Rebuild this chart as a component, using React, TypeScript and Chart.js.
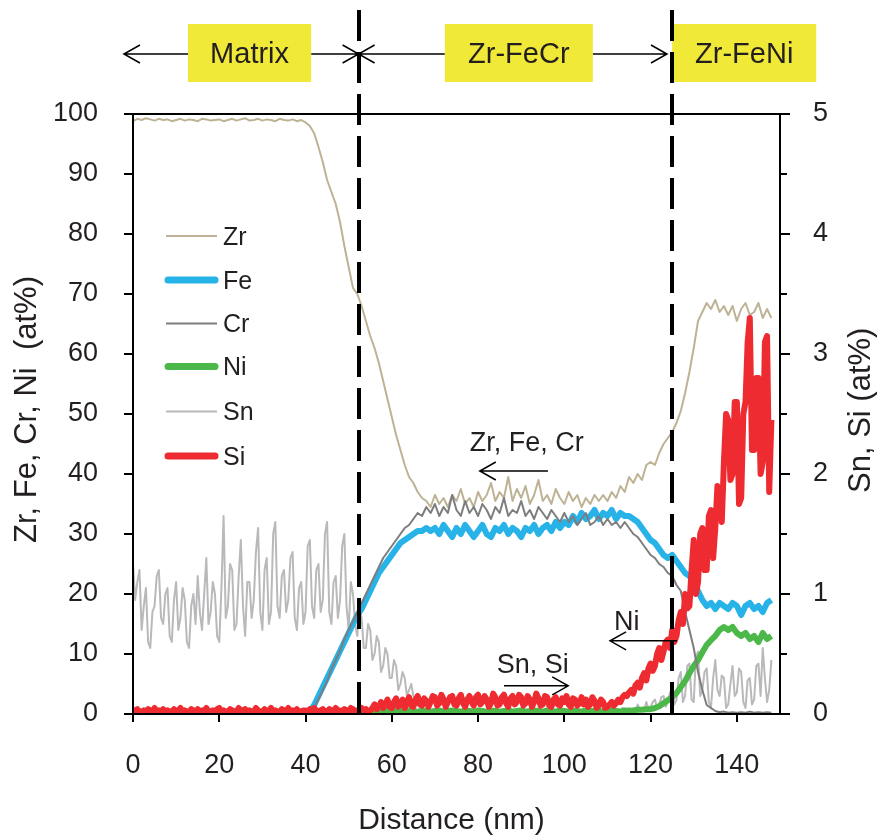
import React, { useEffect, useRef } from 'react';
import { Chart, registerables } from 'chart.js';

Chart.register(...registerables);

// ---- data: Zr, Fe, Cr, Ni sampled every 1 nm (0..148 nm) ----
const zr = [
  98.8, 99.2, 99.0, 99.3, 99.1, 98.9, 99.2, 99.0, 99.1, 98.8,
  99.0, 99.2, 98.9, 99.1, 99.0, 98.8, 99.2, 99.1, 98.9, 99.0,
  99.1, 98.8, 99.0, 99.2, 98.9, 99.1, 99.3, 98.9, 99.0, 99.2,
  98.9, 99.1, 99.0, 98.8, 99.2, 99.0, 98.9, 99.1, 98.8, 99.0,
  98.6, 98.0, 96.8, 94.5, 92.0, 89.0, 87.0, 85.0, 82.0, 78.0,
  74.5, 71.0, 70.0, 68.0, 65.5, 63.0, 61.0, 58.5, 55.5, 52.5,
  49.5, 46.5, 44.0, 41.5, 39.5, 38.5, 37.0, 36.0, 35.5, 34.5,
  36.5, 35.0, 36.0, 34.5, 36.5, 35.5, 37.5, 35.0, 36.0, 34.5,
  37.0, 35.5, 36.5, 38.5, 35.5, 37.0, 36.0, 39.5, 35.5, 37.5,
  36.0, 38.0, 35.0, 36.5, 39.0, 35.5, 36.5, 35.0, 37.5, 36.0,
  35.0, 37.0, 35.5, 36.5, 34.5, 36.0, 35.0, 36.5, 35.5, 36.5,
  35.5, 37.0, 36.0, 38.0, 37.0, 39.5, 38.5, 40.0, 39.0, 41.5,
  42.0, 41.5, 43.5, 45.0, 46.0, 47.0, 48.5, 50.5, 53.5, 57.0,
  61.0, 65.5, 67.0, 68.5, 67.5, 69.0, 67.0, 68.0, 66.5, 68.0,
  65.5, 67.5, 68.5, 66.5, 67.0, 68.5, 66.0, 67.5, 66.0,
];

const fe = [
  0.1, 0.0, 0.1, 0.1, 0.0, 0.1, 0.0, 0.1, 0.1, 0.0,
  0.1, 0.0, 0.1, 0.0, 0.1, 0.1, 0.0, 0.1, 0.0, 0.1,
  0.0, 0.1, 0.1, 0.0, 0.1, 0.0, 0.1, 0.1, 0.0, 0.1,
  0.1, 0.0, 0.1, 0.0, 0.1, 0.1, 0.0, 0.1, 0.1, 0.1,
  0.1, 0.5, 1.5, 3.0, 4.5, 6.0, 7.5, 9.0, 10.5, 12.0,
  13.5, 15.0, 16.5, 17.5, 19.0, 20.5, 22.0, 23.5, 24.5, 25.5,
  26.5, 27.5, 28.5, 29.0, 29.5, 30.0, 30.5, 30.5, 31.0, 30.5,
  31.0, 30.0, 31.5, 30.5, 29.5, 31.0, 30.0, 31.5, 30.5, 29.5,
  30.5, 31.5, 30.0, 29.5, 31.0, 30.5, 31.5, 30.0, 31.0, 30.5,
  29.5, 31.0, 30.5, 31.5, 30.0, 31.0, 31.5, 30.5, 32.0, 31.0,
  32.0, 31.5, 33.0, 32.0, 33.5, 32.5, 33.0, 34.0, 32.5, 33.5,
  33.0, 34.0, 32.5, 33.5, 33.0, 33.0, 32.5, 32.0, 31.0, 30.0,
  29.0, 28.5, 27.5, 26.5, 26.0, 26.5, 25.5, 24.5, 23.5, 23.0,
  22.0, 20.5, 19.0, 18.0, 18.5, 17.5, 18.5, 18.0, 17.5, 18.5,
  18.0, 16.5, 18.0, 18.5, 17.5, 18.0, 17.0, 18.5, 19.0,
];

const cr = [
  0.1, 0.1, 0.0, 0.1, 0.1, 0.0, 0.1, 0.0, 0.1, 0.1,
  0.0, 0.1, 0.1, 0.0, 0.1, 0.0, 0.1, 0.1, 0.0, 0.1,
  0.1, 0.0, 0.1, 0.1, 0.0, 0.1, 0.0, 0.1, 0.1, 0.0,
  0.1, 0.1, 0.0, 0.1, 0.0, 0.1, 0.1, 0.0, 0.1, 0.1,
  0.1, 0.3, 1.0, 2.5, 4.0, 5.5, 7.5, 9.0, 10.5, 12.5,
  14.0, 15.5, 17.0, 18.5, 20.0, 21.5, 23.0, 24.5, 26.0, 27.0,
  28.0, 29.0, 30.0, 31.0, 31.5, 32.5, 33.5, 33.0, 34.5, 33.5,
  35.0, 33.0, 34.5, 33.5, 36.5, 34.0, 33.0, 35.5, 33.5, 34.5,
  33.0, 35.0, 34.0, 32.5, 34.5, 33.5, 36.0, 33.0, 34.0, 33.5,
  35.5, 33.0, 34.0, 32.5, 34.5, 33.5, 32.5, 34.0, 33.0, 32.0,
  33.5, 32.0, 33.0, 31.5, 32.5, 33.5, 31.5, 32.0, 33.0, 31.5,
  32.5, 31.5, 32.0, 31.0, 32.0, 31.0, 30.0, 29.5, 28.5, 27.5,
  26.5, 26.0, 25.0, 24.5, 23.5, 23.0, 21.5, 20.5, 17.0, 14.0,
  11.0, 7.0, 4.0, 1.5, 1.0, 0.5, 0.3, 0.4, 0.2, 0.3,
  0.2, 0.3, 0.2, 0.4, 0.2, 0.3, 0.2, 0.3, 0.2,
];

const ni = [
  0.2, 0.4, 0.3, 0.2, 0.4, 0.3, 0.2, 0.3, 0.4, 0.2,
  0.3, 0.4, 0.2, 0.3, 0.2, 0.4, 0.3, 0.2, 0.4, 0.3,
  0.2, 0.3, 0.4, 0.2, 0.3, 0.4, 0.2, 0.3, 0.2, 0.4,
  0.3, 0.2, 0.4, 0.3, 0.2, 0.3, 0.4, 0.2, 0.3, 0.4,
  0.2, 0.3, 0.4, 0.3, 0.2, 0.4, 0.3, 0.2, 0.4, 0.3,
  0.4, 0.5, 0.3, 0.4, 0.5, 0.4, 0.3, 0.5, 0.4, 0.5,
  0.4, 0.6, 0.5, 0.4, 0.6, 0.5, 0.4, 0.5, 0.6, 0.4,
  0.5, 0.6, 0.4, 0.5, 0.6, 0.5, 0.4, 0.6, 0.5, 0.4,
  0.6, 0.5, 0.4, 0.6, 0.5, 0.4, 0.5, 0.6, 0.4, 0.5,
  0.6, 0.4, 0.5, 0.6, 0.5, 0.4, 0.6, 0.5, 0.4, 0.6,
  0.5, 0.4, 0.6, 0.5, 0.4, 0.6, 0.5, 0.5, 0.6, 0.4,
  0.5, 0.6, 0.5, 0.4, 0.6, 0.5, 0.6, 0.7, 0.7, 0.8,
  0.8, 1.0, 1.3, 1.8, 2.3, 2.8, 3.5, 4.5, 5.5, 6.8,
  8.0, 9.0, 10.3, 11.5, 12.3, 13.0, 14.0, 14.5, 14.0, 14.5,
  13.5, 13.0, 13.5, 12.5, 13.0, 12.0, 13.5, 12.5, 13.0,
];

// ---- data: Sn, Si sampled every 0.5 nm (0..148 nm), right axis ----
const sn = [
  1.25, 0.95, 1.1, 1.2, 0.7, 0.9, 1.05, 0.6, 0.55, 0.85,
  0.9, 1.15, 1.2, 0.8, 0.75, 1.0, 1.05, 0.65, 0.6, 0.95,
  1.1, 0.7, 0.8, 1.05, 0.95, 0.6, 0.55, 0.9, 1.0, 0.75,
  1.15, 0.85, 0.7, 1.0, 1.3, 0.75, 0.85, 1.1, 1.0, 0.65,
  0.6, 1.05, 1.65, 0.8, 0.9, 1.25, 1.2, 0.7, 0.75, 1.15,
  1.45, 0.9, 0.65, 1.1, 1.1, 0.8, 0.95, 1.35, 1.55, 0.85,
  0.7, 1.2, 1.3, 0.75, 0.85, 1.5, 1.6, 0.9, 0.8, 1.15,
  1.2, 0.85, 0.95, 1.3, 1.35, 0.8, 0.7, 1.05, 1.1, 0.75,
  0.85, 1.4, 1.45, 0.9, 0.8, 1.2, 1.25, 0.85, 0.95, 1.5,
  1.6, 0.85, 0.75, 1.1, 1.15, 0.8, 0.95, 1.4, 1.5, 0.9,
  0.7, 1.1, 1.0, 0.75, 0.65, 0.9, 0.8, 0.55, 0.55, 0.75,
  0.7, 0.45, 0.5, 0.65, 0.6, 0.35, 0.4, 0.55, 0.5, 0.3,
  0.3, 0.45, 0.4, 0.2, 0.25, 0.35, 0.3, 0.15, 0.2, 0.25,
  0.15, 0.1, 0.12, 0.05, 0.05, 0.1, 0.08, 0.03, 0.03, 0.02,
  0.02, 0.03, 0.01, 0.02, 0.03, 0.01, 0.02, 0.02, 0.01, 0.03,
  0.02, 0.01, 0.03, 0.02, 0.01, 0.02, 0.03, 0.01, 0.02, 0.02,
  0.01, 0.03, 0.02, 0.01, 0.02, 0.03, 0.02, 0.01, 0.02, 0.03,
  0.02, 0.01, 0.02, 0.03, 0.01, 0.02, 0.02, 0.03, 0.01, 0.02,
  0.03, 0.02, 0.01, 0.02, 0.03, 0.02, 0.01, 0.03, 0.02, 0.01,
  0.02, 0.03, 0.01, 0.02, 0.02, 0.03, 0.01, 0.02, 0.03, 0.02,
  0.01, 0.02, 0.03, 0.02, 0.01, 0.03, 0.02, 0.02, 0.01, 0.03,
  0.02, 0.03, 0.02, 0.01, 0.03, 0.02, 0.03, 0.02, 0.04, 0.02,
  0.03, 0.02, 0.04, 0.03, 0.02, 0.04, 0.03, 0.05, 0.03, 0.04,
  0.05, 0.03, 0.04, 0.02, 0.08, 0.04, 0.05, 0.03, 0.1, 0.05,
  0.06, 0.1, 0.12, 0.05, 0.08, 0.14, 0.15, 0.06, 0.1, 0.18,
  0.2, 0.08, 0.12, 0.3, 0.35, 0.1, 0.15, 0.4, 0.42, 0.12,
  0.1, 0.48, 0.52, 0.15, 0.2, 0.35, 0.38, 0.1, 0.05, 0.3,
  0.45, 0.2, 0.15, 0.32, 0.3, 0.05, 0.08, 0.25, 0.4, 0.15,
  0.18, 0.38, 0.35, 0.1, 0.05, 0.28, 0.3, 0.08, 0.12, 0.4,
  0.42, 0.15, 0.55, 0.3, 0.1, 0.2, 0.45,
];

const si = [
  0.02, 0.03, 0.04, 0.02, 0.02, 0.03, 0.02, 0.04, 0.03, 0.02,
  0.05, 0.02, 0.03, 0.02, 0.04, 0.02, 0.03, 0.02, 0.02, 0.04,
  0.02, 0.03, 0.05, 0.02, 0.03, 0.02, 0.02, 0.04, 0.03, 0.02,
  0.04, 0.02, 0.03, 0.02, 0.05, 0.02, 0.02, 0.03, 0.02, 0.04,
  0.05, 0.02, 0.03, 0.02, 0.02, 0.04, 0.03, 0.02, 0.02, 0.05,
  0.02, 0.03, 0.04, 0.02, 0.03, 0.02, 0.02, 0.05, 0.03, 0.02,
  0.02, 0.04, 0.02, 0.03, 0.05, 0.02, 0.03, 0.02, 0.02, 0.04,
  0.03, 0.02, 0.05, 0.02, 0.03, 0.02, 0.04, 0.02, 0.02, 0.03,
  0.03, 0.02, 0.04, 0.02, 0.05, 0.03, 0.02, 0.03, 0.04, 0.02,
  0.02, 0.04, 0.03, 0.02, 0.05, 0.03, 0.03, 0.02, 0.04, 0.03,
  0.02, 0.05, 0.04, 0.02, 0.03, 0.02, 0.05, 0.03, 0.04, 0.02,
  0.03, 0.05, 0.08, 0.04, 0.06, 0.1, 0.05, 0.08, 0.12, 0.06,
  0.05, 0.1, 0.13, 0.06, 0.08, 0.12, 0.05, 0.1, 0.14, 0.07,
  0.06, 0.12, 0.15, 0.08, 0.07, 0.13, 0.11, 0.06, 0.1, 0.15,
  0.14, 0.07, 0.09, 0.16, 0.12, 0.06, 0.1, 0.14, 0.15, 0.08,
  0.07, 0.13, 0.16, 0.09, 0.06, 0.12, 0.15, 0.1, 0.07, 0.14,
  0.16, 0.08, 0.1, 0.15, 0.12, 0.06, 0.09, 0.17, 0.14, 0.07,
  0.08, 0.14, 0.16, 0.09, 0.06, 0.13, 0.15, 0.08, 0.1, 0.16,
  0.14, 0.07, 0.09, 0.15, 0.12, 0.06, 0.1, 0.17, 0.13, 0.07,
  0.08, 0.15, 0.14, 0.07, 0.06, 0.12, 0.14, 0.08, 0.07, 0.13,
  0.1, 0.15, 0.08, 0.06, 0.13, 0.12, 0.07, 0.09, 0.14, 0.08,
  0.12, 0.06, 0.08, 0.14, 0.11, 0.05, 0.07, 0.12, 0.1, 0.05,
  0.06, 0.08, 0.1, 0.07, 0.09, 0.12, 0.1, 0.14, 0.16, 0.15,
  0.18, 0.2, 0.17, 0.24, 0.26, 0.22, 0.3, 0.34, 0.28, 0.38,
  0.42, 0.36, 0.4, 0.5, 0.55, 0.45, 0.52, 0.6, 0.62, 0.55,
  0.7, 0.6, 0.65, 0.78, 0.85, 0.75, 1.0, 0.88, 0.9, 1.2,
  1.45, 1.0, 1.1, 1.5, 1.55, 1.2, 1.2, 1.65, 1.7, 1.3,
  1.55, 1.9, 1.8, 1.6, 2.1, 2.5, 2.45, 1.95, 2.0, 2.6,
  2.6, 1.75, 1.8, 2.5, 2.6, 3.1, 3.3, 2.2, 2.2, 2.8,
  2.8, 2.0, 2.1, 3.1, 3.15, 1.85, 2.45,
];

const STEP_COARSE = 1; // nm
const STEP_FINE = 0.5; // nm
const xTicks = [0, 20, 40, 60, 80, 100, 120, 140];
const boundaries = [52.3, 125.0];
const regionNames = ['Matrix', 'Zr-FeCr', 'Zr-FeNi'];

const COLORS = {
  zr: '#bdb394',
  fe: '#27b3e8',
  cr: '#7d7d7f',
  ni: '#4db84a',
  sn: '#b9b9bb',
  si: '#ee2b30',
};
const TEXT = '#231f20';
const FONT = '"Liberation Sans", Arial, Helvetica, sans-serif';

const pts = (vals: number[], step: number) => vals.map((v, i) => ({ x: i * step, y: v }));

const seriesDefs = [
  { label: 'Zr', data: zr, step: STEP_COARSE, color: COLORS.zr, width: 2, axis: 'y', order: 5 },
  { label: 'Fe', data: fe, step: STEP_COARSE, color: COLORS.fe, width: 6, axis: 'y', order: 3 },
  { label: 'Cr', data: cr, step: STEP_COARSE, color: COLORS.cr, width: 2, axis: 'y', order: 2 },
  { label: 'Ni', data: ni, step: STEP_COARSE, color: COLORS.ni, width: 6, axis: 'y', order: 4 },
  { label: 'Sn', data: sn, step: STEP_FINE, color: COLORS.sn, width: 2, axis: 'y2', order: 6 },
  { label: 'Si', data: si, step: STEP_FINE, color: COLORS.si, width: 6, axis: 'y2', order: 1 },
];

function arrow(ctx: CanvasRenderingContext2D, x1: number, x2: number, y: number) {
  const dir = x2 > x1 ? 1 : -1;
  ctx.beginPath();
  ctx.moveTo(x1, y);
  ctx.lineTo(x2, y);
  ctx.moveTo(x2 - dir * 16, y - 9);
  ctx.lineTo(x2, y);
  ctx.lineTo(x2 - dir * 16, y + 9);
  ctx.stroke();
}

const decorPlugin = {
  id: 'decor',
  afterDatasetsDraw(chart: any) {
    const ctx: CanvasRenderingContext2D = chart.ctx;
    const xs = chart.scales.x;
    const ca = chart.chartArea;
    ctx.save();
    ctx.strokeStyle = '#000';
    ctx.lineWidth = 4;
    ctx.setLineDash([31, 11]);
    boundaries.forEach((b) => {
      const px = Math.round(xs.getPixelForValue(b));
      ctx.beginPath();
      ctx.moveTo(px, 10);
      ctx.lineTo(px, ca.bottom);
      ctx.stroke();
    });
    ctx.restore();
  },
  afterDraw(chart: any) {
    const ctx: CanvasRenderingContext2D = chart.ctx;
    const xs = chart.scales.x;
    const ys = chart.scales.y;
    const y2 = chart.scales.y2;
    const ca = chart.chartArea;
    ctx.save();

    // frame
    ctx.strokeStyle = '#000';
    ctx.lineWidth = 2;
    ctx.beginPath();
    ctx.rect(ca.left, ca.top, ca.right - ca.left, ca.bottom - ca.top);
    ctx.stroke();

    // ticks
    ctx.beginPath();
    for (let v = 0; v <= 100; v += 10) {
      const py = Math.round(ys.getPixelForValue(v));
      ctx.moveTo(ca.left - 9, py);
      ctx.lineTo(ca.left, py);
    }
    for (let k = 0; k <= 10; k++) {
      const v = k / 2;
      const py = Math.round(y2.getPixelForValue(v));
      ctx.moveTo(ca.right, py);
      ctx.lineTo(ca.right + (k % 2 === 0 ? 10 : 7), py);
    }
    xTicks.forEach((v) => {
      const px = Math.round(xs.getPixelForValue(v));
      ctx.moveTo(px, ca.bottom);
      ctx.lineTo(px, ca.bottom + 8);
    });
    ctx.stroke();

    // axis titles
    ctx.fillStyle = TEXT;
    ctx.textBaseline = 'alphabetic';
    ctx.font = `30px ${FONT}`;
    ctx.textAlign = 'center';
    ctx.fillText('Distance (nm)', (ca.left + ca.right) / 2 - 5, 829);

    ctx.font = `31px ${FONT}`;
    ctx.textAlign = 'left';
    ctx.save();
    ctx.translate(36, 543);
    ctx.rotate(-Math.PI / 2);
    ctx.fillText('Zr, Fe, Cr, Ni  (at%)', 0, 0);
    ctx.restore();
    ctx.save();
    ctx.translate(870, 493);
    ctx.rotate(-Math.PI / 2);
    ctx.fillText('Sn, Si (at%)', 0, 0);
    ctx.restore();

    // legend
    const rows = [236, 280, 323.5, 366.5, 411.5, 456];
    ctx.font = `25px ${FONT}`;
    ctx.textBaseline = 'middle';
    seriesDefs.forEach((s, i) => {
      const y = rows[i];
      ctx.strokeStyle = s.color;
      ctx.lineWidth = s.width > 3 ? 7 : 2;
      ctx.lineCap = s.width > 3 ? 'round' : 'butt';
      ctx.beginPath();
      ctx.moveTo(ca.left + (s.width > 3 ? 35 : 33), y);
      ctx.lineTo(ca.left + (s.width > 3 ? 82 : 84), y);
      ctx.stroke();
      ctx.fillStyle = TEXT;
      ctx.fillText(s.label, ca.left + 90, y + 2);
    });
    ctx.lineCap = 'butt';

    // in-plot annotations
    ctx.strokeStyle = '#000';
    ctx.lineWidth = 1.5;
    ctx.fillStyle = TEXT;
    ctx.font = `27px ${FONT}`;
    ctx.textBaseline = 'alphabetic';
    ctx.textAlign = 'center';
    ctx.fillText('Zr, Fe, Cr', xs.getPixelForValue(91.3), ys.getPixelForValue(43.8));
    arrow(ctx, xs.getPixelForValue(96.2), xs.getPixelForValue(80.4), ys.getPixelForValue(40.5));
    ctx.textAlign = 'left';
    ctx.fillText('Ni', xs.getPixelForValue(111.5), ys.getPixelForValue(14.0));
    arrow(ctx, xs.getPixelForValue(126.1), xs.getPixelForValue(110.6), ys.getPixelForValue(12.2));
    ctx.textAlign = 'center';
    ctx.fillText('Sn, Si', xs.getPixelForValue(92.7), ys.getPixelForValue(6.8));
    arrow(ctx, xs.getPixelForValue(86.0), xs.getPixelForValue(100.9), ys.getPixelForValue(4.7));

    // top region labels
    const yArrow = 54;
    const boxes = [
      [12.75, 41.3],
      [72.3, 106.6],
      [125.0, 158.4],
    ];
    ctx.lineWidth = 1.5;
    arrow(ctx, xs.getPixelForValue(boxes[0][0]), xs.getPixelForValue(-2.1), yArrow);
    arrow(ctx, xs.getPixelForValue(boxes[0][1]), xs.getPixelForValue(boundaries[0]), yArrow);
    arrow(ctx, xs.getPixelForValue(boxes[1][0]), xs.getPixelForValue(boundaries[0]), yArrow);
    arrow(ctx, xs.getPixelForValue(boxes[1][1]), xs.getPixelForValue(boundaries[1] - 1.2), yArrow);
    ctx.font = `29px ${FONT}`;
    ctx.textAlign = 'center';
    ctx.textBaseline = 'middle';
    boxes.forEach((b, i) => {
      const x0 = xs.getPixelForValue(b[0]);
      const x1 = xs.getPixelForValue(b[1]);
      ctx.fillStyle = '#f0e937';
      ctx.fillRect(x0, 24, x1 - x0, 58);
      ctx.fillStyle = TEXT;
      ctx.fillText(regionNames[i], (x0 + x1) / 2, 55);
    });
    ctx.strokeStyle = '#000';
    ctx.lineWidth = 4;
    ctx.setLineDash([31, 11]);
    const pb = Math.round(xs.getPixelForValue(boundaries[1]));
    ctx.beginPath();
    ctx.moveTo(pb, 10);
    ctx.lineTo(pb, ca.top);
    ctx.stroke();
    ctx.restore();
  },
};

export default function App() {
  const ref = useRef<HTMLCanvasElement | null>(null);
  useEffect(() => {
    if (!ref.current) return;
    const tickFont = { family: FONT, size: 27 };
    const chart = new Chart(ref.current, {
      type: 'line',
      data: {
        datasets: seriesDefs.map((s) => ({
          label: s.label,
          data: pts(s.data, s.step),
          borderColor: s.color,
          backgroundColor: s.color,
          borderWidth: s.width,
          yAxisID: s.axis,
          order: s.order,
          pointRadius: 0,
          tension: 0,
          fill: false,
          borderJoinStyle: 'round' as const,
        })),
      },
      options: {
        responsive: false,
        animation: false,
        devicePixelRatio: 1,
        layout: { padding: { top: 114, left: 0, right: 0, bottom: 0 } },
        plugins: { legend: { display: false }, tooltip: { enabled: false } },
        scales: {
          x: {
            type: 'linear',
            min: 0,
            max: 150,
            grid: { display: false },
            border: { display: false },
            afterBuildTicks: (s: any) => {
              s.ticks = xTicks.map((v) => ({ value: v }));
            },
            afterFit: (s: any) => {
              s.height = 122;
            },
            ticks: { font: tickFont, color: TEXT, padding: 27, maxRotation: 0, autoSkip: false },
          },
          y: {
            position: 'left',
            min: 0,
            max: 100,
            grid: { display: false },
            border: { display: false },
            afterFit: (s: any) => {
              s.width = 133;
            },
            ticks: { stepSize: 10, font: tickFont, color: TEXT, padding: 27 },
          },
          y2: {
            position: 'right',
            min: 0,
            max: 5,
            grid: { display: false },
            border: { display: false },
            afterFit: (s: any) => {
              s.width = 97;
            },
            ticks: { stepSize: 1, font: tickFont, color: TEXT, padding: 25 },
          },
        },
      },
      plugins: [decorPlugin],
    });
    return () => chart.destroy();
  }, []);
  return (
    <div style={{ position: 'fixed', left: 0, top: 0, width: 877, height: 836, background: '#fff' }}>
      <canvas ref={ref} width={877} height={836} style={{ display: 'block' }} />
    </div>
  );
}
